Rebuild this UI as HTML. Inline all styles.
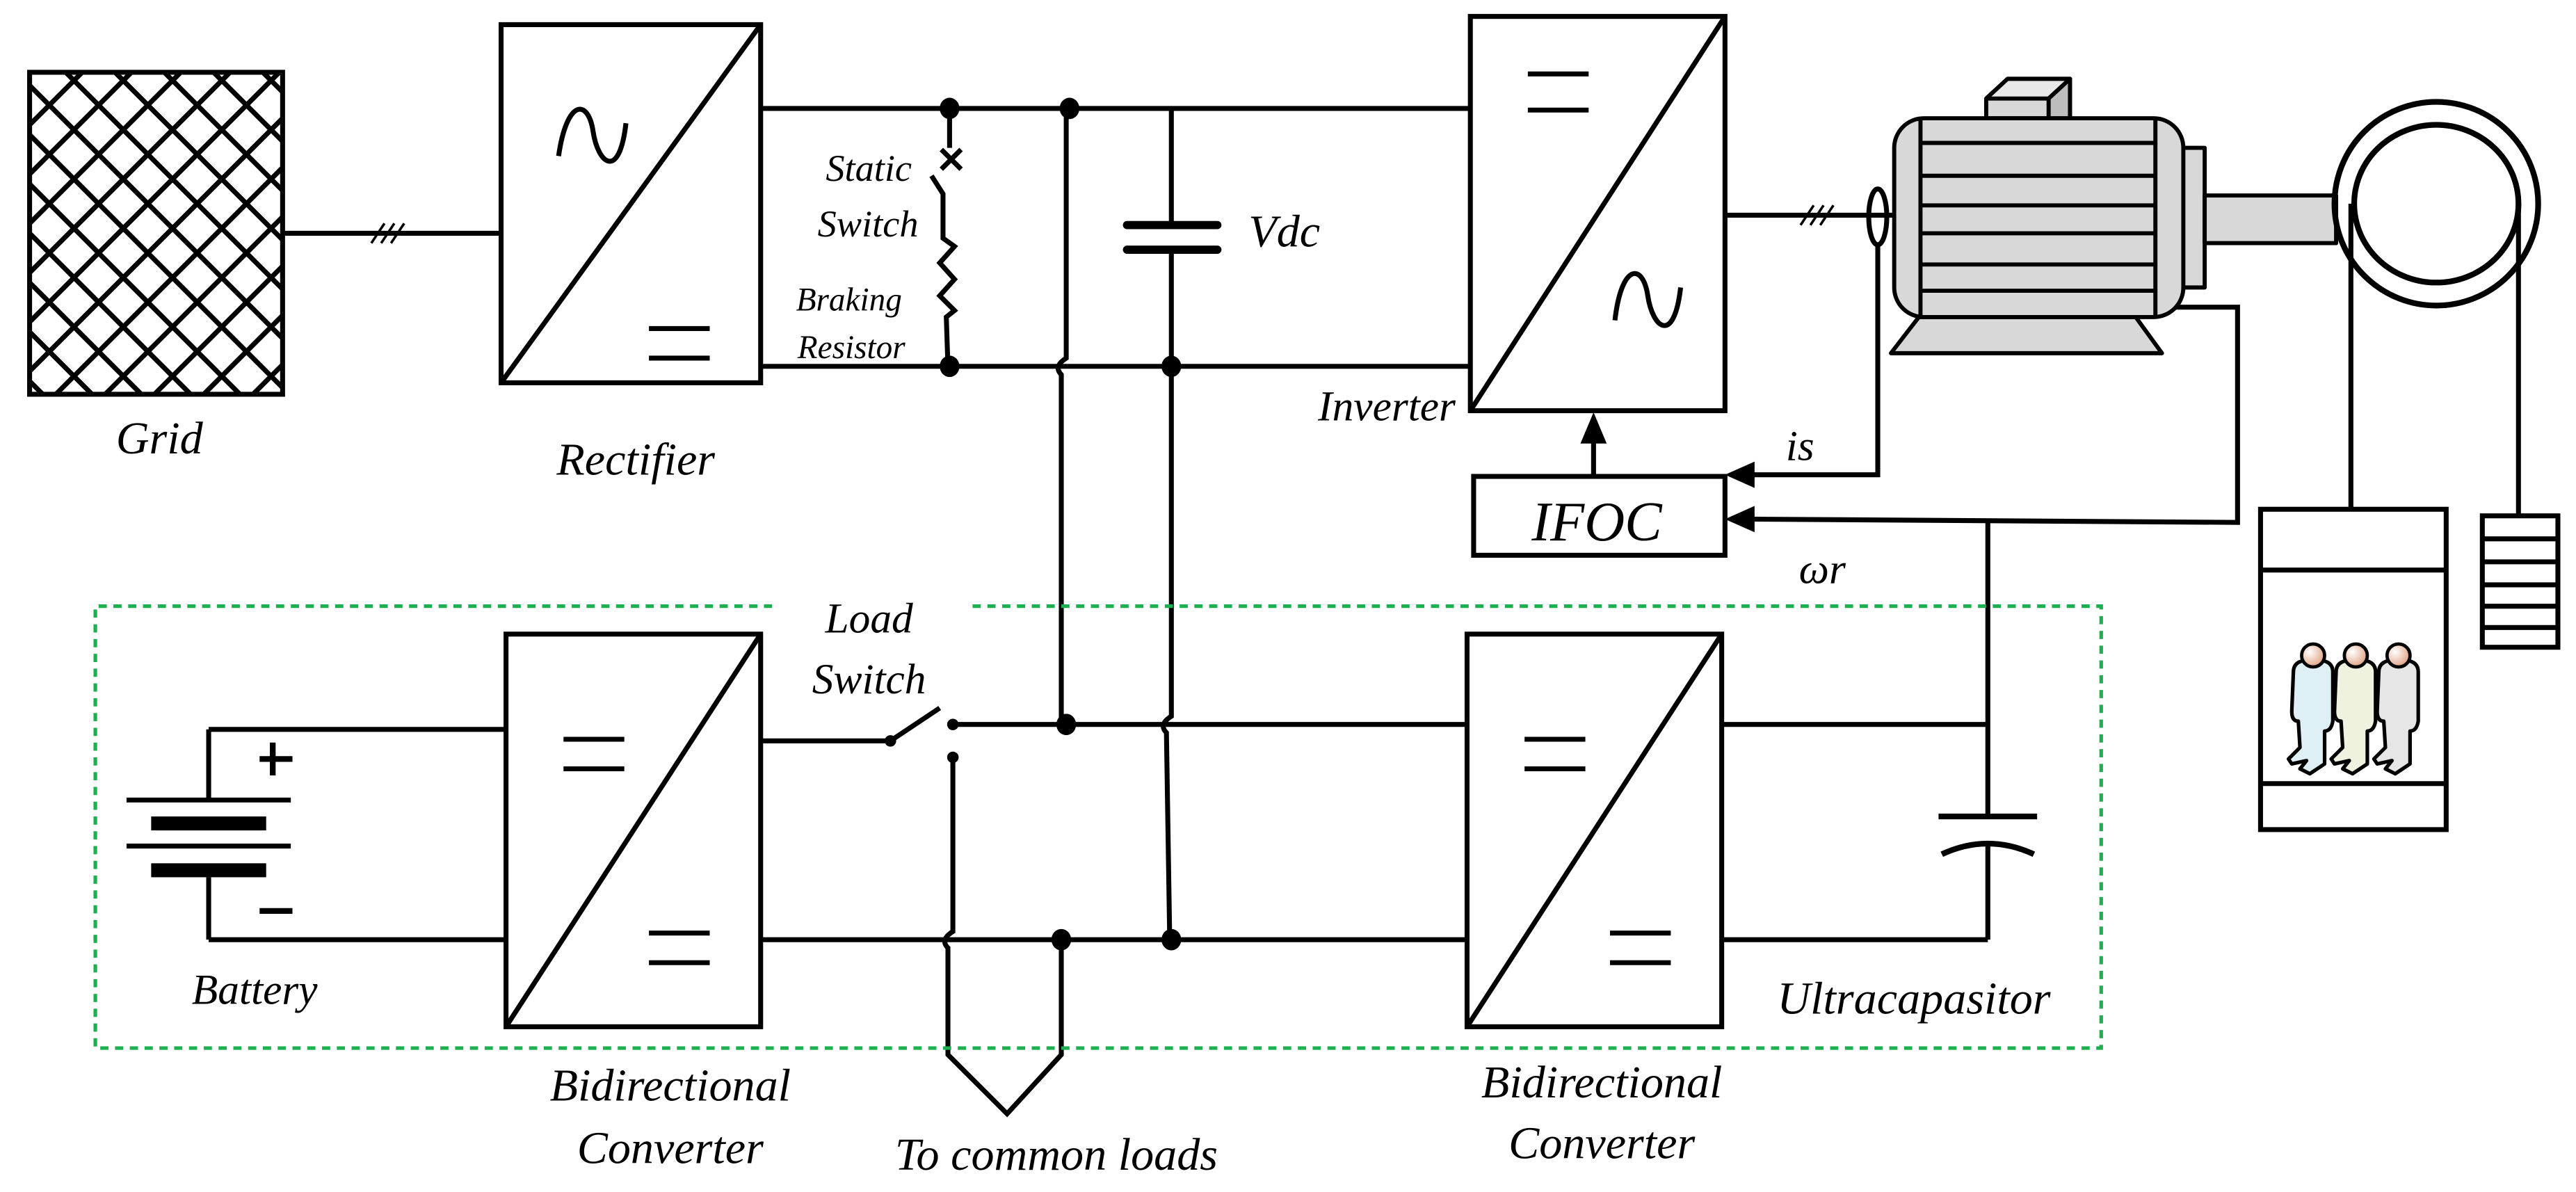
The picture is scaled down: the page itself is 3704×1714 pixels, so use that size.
<!DOCTYPE html>
<html><head><meta charset="utf-8"><style>
html,body{margin:0;padding:0;background:#fff;}
svg{display:block;}
.t text{font-family:"Liberation Serif","DejaVu Serif",serif;font-style:italic;fill:#000;}
</style></head><body>
<svg width="3704" height="1714" viewBox="0 0 1568 725.6" xmlns="http://www.w3.org/2000/svg">
<defs>
<clipPath id="gc"><rect x="18" y="44" width="154" height="196"/></clipPath>
<g id="person">
<path d="M-12,10 Q-12,4 -5,3 L5,3 Q12,4 12,10 L12,40 Q11,46 7,46 L7,66 L-2,72 L-8,69 L-4,64 L-13,66 L-15,63 L-8,56 L-9,40 Q-13,40 -13,34 Z" stroke="#000" stroke-width="2.2" stroke-linejoin="round"/>
</g>
<radialGradient id="hd" cx="0.35" cy="0.35" r="0.7"><stop offset="0" stop-color="#fff"/><stop offset="1" stop-color="#e0a080"/></radialGradient>
</defs>
<g fill="none" stroke="#000" stroke-width="3">
<rect x="18" y="44" width="154" height="196"/>
<g clip-path="url(#gc)" stroke-width="3">
<path d="M-200,44 L40,284 M-170,44 L70,284 M-140,44 L100,284 M-110,44 L130,284 M-80,44 L160,284 M-50,44 L190,284 M-20,44 L220,284 M10,44 L250,284 M40,44 L280,284 M70,44 L310,284 M100,44 L340,284 M130,44 L370,284 M160,44 L400,284"/>
<path d="M200,44 L-40,284 M230,44 L-10,284 M260,44 L20,284 M290,44 L50,284 M320,44 L80,284 M350,44 L110,284 M380,44 L140,284 M170,44 L-70,284 M140,44 L-100,284 M110,44 L-130,284 M80,44 L-160,284 M50,44 L-190,284"/>
</g>
<path d="M172,142 L305,142"/>
<path d="M226,148 L234,136 M232,148 L240,136 M238,148 L246,136" stroke-width="1.5"/>
<rect x="305" y="15" width="158" height="218"/>
<path d="M305,233 L463,15"/>
<path d="M340,95 C345,60 358,60 361,80 C364,100 377,110 381,75"/>
<path d="M395,200 L432,200 M395,218 L432,218"/>
<path d="M463,66 L895,66 M463,223 L895,223"/>
<path d="M578,66 L578,90 M573,91 L585,103 M585,91 L573,103 M567,107 L574,118 L574,145 L581,150 L572,160 L581,170 L572,180 L581,189 L576,193 L577,223"/>
<path d="M649,66 L649,218 Q641,223 646,228 L646,440"/>
<path d="M713,66 L713,137 M713,152 L713,436 Q705,441 710,446 L712,572"/>
<path d="M686,137 L741,137 M686,152 L741,152" stroke-width="5" stroke-linecap="round"/>
<rect x="895" y="10" width="155" height="240"/>
<path d="M895,250 L1050,10"/>
<path d="M930,45 L967,45 M930,67 L967,67"/>
<path d="M983,195 C987,160 1000,160 1003,180 C1006,200 1019,210 1023,175"/>
<path d="M1050,131 L1153,131"/>
<path d="M1096,137 L1104,125 M1102,137 L1110,125 M1108,137 L1116,125" stroke-width="1.5"/>
<ellipse cx="1143" cy="132" rx="5.5" ry="17"/>
<path d="M1143,149 L1143,289 L1065,289"/>
<rect x="897" y="290" width="153" height="48"/>
<path d="M970,290 L970,268"/>
<path d="M1320,187 L1362,187 L1362,318 L1065,316"/>
<path d="M1210,318 L1210,497 M1210,515 L1210,572"/>
<path d="M1180,497 L1240,497" stroke-width="3.5"/>
<path d="M1182,520 Q1210,507 1238,520" stroke-width="3.5"/>
<path d="M127,444 L308,444 M127,572 L308,572 M127,444 L127,487 M127,534 L127,572"/>
<path d="M77,487 L177,487 M77,515 L177,515"/>
<path d="M463,451 L542,451 L572,431"/>
<path d="M580,441 L893,441"/>
<path d="M580,461 L580,567 Q572,572 577,577 L577,642 L613,678 L646,642 L646,572"/>
<path d="M463,572 L893,572"/>
<path d="M1048,441 L1210,441 M1048,572 L1210,572"/>
<rect x="308" y="386" width="155" height="239"/>
<path d="M308,625 L463,386"/>
<path d="M343,450 L380,450 M343,468 L380,468 M395,568 L432,568 M395,586 L432,586"/>
<rect x="893" y="386" width="155" height="239"/>
<path d="M893,625 L1048,386"/>
<path d="M928,450 L965,450 M928,468 L965,468 M980,568 L1017,568 M980,586 L1017,586"/>
<path d="M1431,124 L1431,310 M1533,124 L1533,314"/>
<rect x="1376" y="310" width="113" height="195"/>
<path d="M1376,347 L1489,347 M1376,477 L1489,477"/>
<rect x="1511" y="314" width="46" height="80"/>
<path d="M1511,328 L1557,328 M1511,342 L1557,342 M1511,356 L1557,356 M1511,369 L1557,369 M1511,382 L1557,382"/>
</g>
<rect x="92" y="497" width="70" height="8.5" fill="#000"/>
<rect x="92" y="525.5" width="70" height="8.5" fill="#000"/>
<path d="M158,462 L178,462 M166,452 L166,472 M158,554.5 L178,554.5" stroke="#000" stroke-width="3.5" fill="none"/>
<g fill="#000">
<ellipse cx="578" cy="66" rx="6" ry="6.5"/><ellipse cx="578" cy="223" rx="6" ry="6.5"/>
<ellipse cx="651" cy="66" rx="6" ry="6.5"/><ellipse cx="713" cy="223" rx="6" ry="6.5"/>
<ellipse cx="649" cy="441" rx="6" ry="6.5"/><ellipse cx="646" cy="572" rx="6" ry="6.5"/>
<ellipse cx="713" cy="572" rx="6" ry="6.5"/>
<ellipse cx="542" cy="451" rx="3.5" ry="3.5"/><ellipse cx="580" cy="441" rx="3.5" ry="3.5"/><ellipse cx="580" cy="461" rx="3.5" ry="3.5"/>
<path d="M970,251 L962,270 L978,270 Z"/>
<path d="M1050,289 L1068,281 L1068,297 Z"/>
<path d="M1050,316 L1068,308 L1068,324 Z"/>
</g>
<path d="M470,369 L58,369 L58,638 L1279,638 L1279,369 L590,369" fill="none" stroke="#1db050" stroke-width="2.2" stroke-dasharray="5,4"/>
<g stroke="#000" stroke-width="2.5" stroke-linejoin="round">
<path d="M1209,72 L1209,60 L1222,48 L1260,48 L1260,72 Z" fill="#d8d8d8"/>
<path d="M1209,60 L1222,48 L1260,48 L1247,60 Z" fill="#e8e8e8"/>
<path d="M1247,60 L1260,48 L1260,72 L1247,72 Z" fill="#bdbdbd"/>
<path d="M1168,193 L1300,193 L1316,215 L1151,215 Z" fill="#d8d8d8"/>
<rect x="1326" y="90" width="16" height="85" fill="#d8d8d8"/>
<rect x="1342" y="119" width="80" height="29" fill="#d8d8d8"/>
<rect x="1153" y="72" width="176" height="121" rx="18" fill="#d8d8d8"/>
<path d="M1169,72 L1169,193 M1312,72 L1312,193 M1169,87 L1312,87 M1169,107 L1312,107 M1169,125 L1312,125 M1169,142 L1312,142 M1169,161 L1312,161 M1169,177 L1312,177" fill="none"/>
</g>
<g fill="none" stroke="#000" stroke-width="3.5">
<ellipse cx="1483" cy="124" rx="62" ry="62"/>
<ellipse cx="1483" cy="124" rx="50" ry="48"/>
</g>
<g transform="translate(1408,399)"><use href="#person" fill="#dff0f4"/><circle r="7" fill="url(#hd)" stroke="#000" stroke-width="2"/></g>
<g transform="translate(1434,399)"><use href="#person" fill="#eef2df"/><circle r="7" fill="url(#hd)" stroke="#000" stroke-width="2"/></g>
<g transform="translate(1460,399)"><use href="#person" fill="#e6e6e6"/><circle r="7" fill="url(#hd)" stroke="#000" stroke-width="2"/></g>
<g class="t" font-family="Liberation Serif, DejaVu Serif, serif" font-style="italic">
<text x="97" y="276" font-size="28" text-anchor="middle">Grid</text>
<text x="387" y="289" font-size="28" text-anchor="middle">Rectifier</text>
<text x="555" y="110" font-size="23" text-anchor="end">Static</text>
<text x="559" y="144" font-size="23" text-anchor="end">Switch</text>
<text x="549" y="189" font-size="20" text-anchor="end">Braking</text>
<text x="551" y="218" font-size="20" text-anchor="end">Resistor</text>
<text x="760" y="150" font-size="28">Vdc</text>
<text x="886" y="256" font-size="26" text-anchor="end">Inverter</text>
<text x="972" y="329" font-size="34" text-anchor="middle">IFOC</text>
<text x="1087" y="280" font-size="26">is</text>
<text x="1095" y="355" font-size="26">ωr</text>
<text x="529" y="385" font-size="26" text-anchor="middle">Load</text>
<text x="529" y="422" font-size="26" text-anchor="middle">Switch</text>
<text x="155" y="611" font-size="26" text-anchor="middle">Battery</text>
<text x="408" y="670" font-size="28" text-anchor="middle">Bidirectional</text>
<text x="408" y="708" font-size="28" text-anchor="middle">Converter</text>
<text x="643" y="712" font-size="28" text-anchor="middle">To common loads</text>
<text x="975" y="668" font-size="28" text-anchor="middle">Bidirectional</text>
<text x="975" y="705" font-size="28" text-anchor="middle">Converter</text>
<text x="1165" y="617" font-size="28" text-anchor="middle">Ultracapasitor</text>
</g>
</svg>
</body></html>
